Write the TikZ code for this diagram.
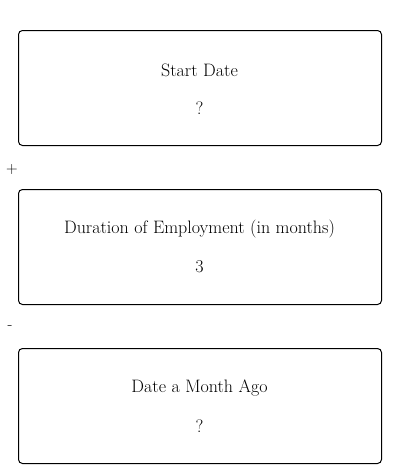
\documentclass[tikz,border=0pt]{standalone}
\begin{document}
\begin{tikzpicture}[x=1pt,y=-1pt,
  card/.style={draw=black, line width=1pt, rounded corners=4pt},
  txt/.style={font=\fontsize{18}{21}\selectfont, inner sep=0pt, anchor=center},
  op/.style={font=\fontsize{16}{18}\selectfont, inner sep=0pt, anchor=center}]
\useasboundingbox (0,0) rectangle (400,474);
% box 1
\draw[card] (18.5,30.5) rectangle (381.5,145.5);
\node[txt] (t1) at (199.5,70) {Start Date};
\node[txt] (v1) at (199.5,108) {?};
\node[op] (plus) at (12,170) {+};
% box 2
\draw[card] (18.5,189.5) rectangle (381.5,304.5);
\node[txt] (t2) at (199.5,229) {Duration of Employment (in months)};
\node[txt] (v2) at (199.5,267) {3};
\node[op] (minus) at (10,328) {-};
% box 3
\draw[card] (18.5,348.5) rectangle (381.5,463.5);
\node[txt] (t3) at (199.5,388) {Date a Month Ago};
\node[txt] (v3) at (199.5,426) {?};
\end{tikzpicture}
\end{document}
